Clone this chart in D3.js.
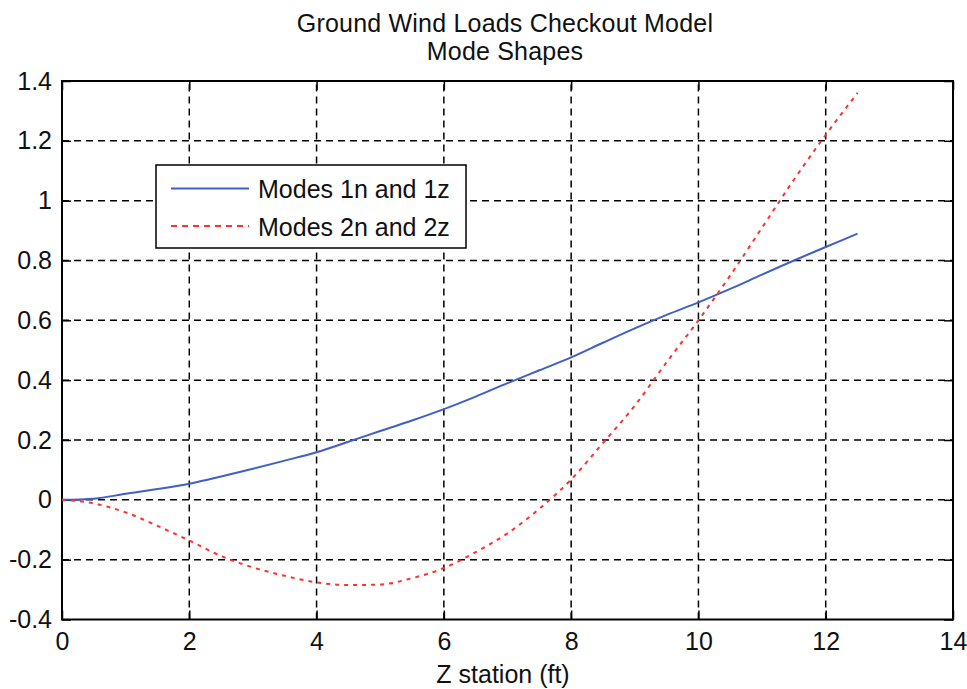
<!DOCTYPE html>
<html lang="en">
<head>
<meta charset="UTF-8">
<title>Ground Wind Loads Checkout Model</title>
<script src="https://d3js.org/d3.v7.min.js"></script>
<style>
  body { margin: 0; background: #fff; }
  svg text { font-family: "Liberation Sans", Arial, Helvetica, sans-serif; fill: #111; }
</style>
</head>
<body>
<div id="chart"></div>
<script>
// Z station (ft)
var zStation = [0, 0.5, 1, 1.5, 2, 2.5, 3, 3.5, 4, 4.5, 5, 5.5, 6, 6.5,
                7, 7.5, 8, 8.5, 9, 9.5, 10, 10.5, 11, 11.5, 12, 12.5];
// Modes 1n and 1z
var mode1 = [0, 0.004, 0.02, 0.036, 0.054, 0.078, 0.104, 0.131, 0.159, 0.194,
             0.23, 0.265, 0.303, 0.345, 0.39, 0.433, 0.476, 0.525, 0.573, 0.618,
             0.66, 0.705, 0.753, 0.80, 0.845, 0.89];
// Modes 2n and 2z
var mode2 = [0, -0.012, -0.042, -0.087, -0.136, -0.188, -0.226, -0.254, -0.276, -0.285,
             -0.283, -0.262, -0.228, -0.175, -0.112, -0.03, 0.068, 0.19, 0.315, 0.46,
             0.60, 0.75, 0.91, 1.07, 1.22, 1.36];

var xTicks = [0, 2, 4, 6, 8, 10, 12, 14];
var yTicks = [-0.4, -0.2, 0, 0.2, 0.4, 0.6, 0.8, 1, 1.2, 1.4];
var titleLines = ["Ground Wind Loads Checkout Model", "Mode Shapes"];
var xLabel = "Z station (ft)";
var seriesNames = ["Modes 1n and 1z", "Modes 2n and 2z"];

var width = 967, height = 689;
var margin = {top: 81, right: 14, bottom: 69.5, left: 62};

var svg = d3.select("#chart").append("svg")
  .attr("width", width)
  .attr("height", height);

var x = d3.scaleLinear().domain([0, 14]).range([margin.left, width - margin.right]);
var y = d3.scaleLinear().domain([-0.4, 1.4]).range([height - margin.bottom, margin.top]);

// grid
var grid = svg.append("g")
  .attr("stroke", "#000")
  .attr("stroke-width", 1.5)
  .attr("stroke-dasharray", "7,5");

grid.selectAll("line.gx")
  .data(xTicks.slice(1, -1))
  .enter().append("line")
  .attr("class", "gx")
  .attr("x1", function(d){ return x(d); })
  .attr("x2", function(d){ return x(d); })
  .attr("y1", y(-0.4))
  .attr("y2", y(1.4));

grid.selectAll("line.gy")
  .data(yTicks.slice(1, -1))
  .enter().append("line")
  .attr("class", "gy")
  .attr("y1", function(d){ return y(d); })
  .attr("y2", function(d){ return y(d); })
  .attr("x1", x(0))
  .attr("x2", x(14));

// axes, ticks pointing inside
function styleAxis(g) {
  g.select(".domain").remove();
  g.selectAll(".tick line").attr("stroke", "#000").attr("stroke-width", 1.5);
  g.selectAll("text").style("font-size", "25px").attr("fill", "#111");
}

svg.append("g")
  .attr("transform", "translate(0," + y(-0.4) + ")")
  .call(d3.axisBottom(x).tickValues(xTicks).tickSize(-9).tickPadding(13)
        .tickFormat(d3.format("d")))
  .call(styleAxis);

svg.append("g")
  .attr("transform", "translate(0," + y(1.4) + ")")
  .call(d3.axisTop(x).tickValues(xTicks).tickSize(-9).tickFormat(""))
  .call(styleAxis);

svg.append("g")
  .attr("transform", "translate(" + x(0) + ",0)")
  .call(d3.axisLeft(y).tickValues(yTicks).tickSize(-9).tickPadding(10)
        .tickFormat(function(d){ return String(+d.toFixed(1)); }))
  .call(styleAxis);

svg.append("g")
  .attr("transform", "translate(" + x(14) + ",0)")
  .call(d3.axisRight(y).tickValues(yTicks).tickSize(-9).tickFormat(""))
  .call(styleAxis);

// box
svg.append("rect")
  .attr("x", x(0))
  .attr("y", y(1.4))
  .attr("width", x(14) - x(0))
  .attr("height", y(-0.4) - y(1.4))
  .attr("fill", "none")
  .attr("stroke", "#000")
  .attr("stroke-width", 2);

// lines
var line1 = d3.line()
  .x(function(d, i){ return x(zStation[i]); })
  .y(function(d){ return y(d); })
  .curve(d3.curveMonotoneX);

svg.append("path")
  .datum(mode1)
  .attr("d", line1)
  .attr("fill", "none")
  .attr("stroke", "#3f5fc6")
  .attr("stroke-width", 2);

svg.append("path")
  .datum(mode2)
  .attr("d", line1)
  .attr("fill", "none")
  .attr("stroke", "#ff3030")
  .attr("stroke-width", 2)
  .attr("stroke-dasharray", "4,5");

// title
svg.append("g").selectAll("text")
  .data(titleLines)
  .enter().append("text")
  .attr("x", 505)
  .attr("y", function(d, i){ return 31.5 + i * 28.5; })
  .attr("text-anchor", "middle")
  .style("font-size", "25px")
  .style("letter-spacing", "0.2px")
  .text(function(d){ return d; });

// x label
svg.append("text")
  .attr("x", 503)
  .attr("y", 683)
  .attr("text-anchor", "middle")
  .style("font-size", "25px")
  .text(xLabel);

// legend
var legend = svg.append("g").attr("transform", "translate(156,165)");
legend.append("rect")
  .attr("width", 310)
  .attr("height", 83)
  .attr("fill", "#fff")
  .attr("stroke", "#000")
  .attr("stroke-width", 1.5);

var legendColors = ["#3f5fc6", "#ff3030"];
var legendDash = [null, "6,5"];
var item = legend.selectAll("g.item")
  .data(seriesNames)
  .enter().append("g")
  .attr("class", "item")
  .attr("transform", function(d, i){ return "translate(0," + (23.5 + i * 37.5) + ")"; });

item.append("line")
  .attr("x1", 15)
  .attr("x2", 93)
  .attr("stroke", function(d, i){ return legendColors[i]; })
  .attr("stroke-width", 2)
  .attr("stroke-dasharray", function(d, i){ return legendDash[i]; });

item.append("text")
  .attr("x", 102)
  .attr("y", 9.5)
  .style("font-size", "25px")
  .text(function(d){ return d; });
</script>
</body>
</html>
